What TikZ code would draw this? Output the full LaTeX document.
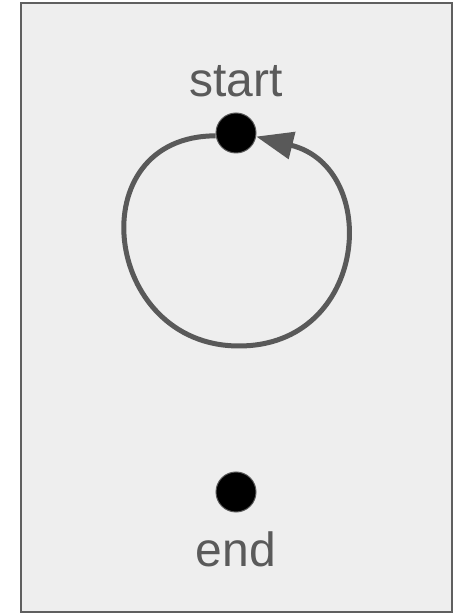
\documentclass[tikz,border=0pt]{standalone}
\usepackage{fontspec}
\setmainfont{Liberation Sans}
\usetikzlibrary{arrows.meta}
\definecolor{framefill}{HTML}{EEEEEE}
\definecolor{framedraw}{HTML}{5F5F5F}
\definecolor{linegray}{HTML}{595959}
\definecolor{textgray}{HTML}{5A5A5A}
\tikzset{
  framebox/.style={draw=framedraw, fill=framefill, line width=2pt},
  dot/.style={circle, fill=black, draw=linegray, line width=1pt, minimum size=40pt, inner sep=0pt},
  lbl/.style={anchor=base, text=textgray, font=\fontsize{48}{56}\selectfont, inner sep=0pt},
  flow/.style={draw=linegray, line width=5pt, -{Triangle[length=37pt,width=27pt]}}
}
\begin{document}
\begin{tikzpicture}[x=1pt,y=1pt]
  \useasboundingbox (0,0) rectangle (456,614);
  \path[framebox] (21,611) rectangle (452,1.5);
  \node[dot] (s) at (236,481) {};
  \node[dot] (e) at (236,122) {};
  \node[lbl] (slbl) at (236,517) {start};
  \node[lbl] (elbl) at (236,47) {end};
  \coordinate (bot) at (239,268);
  \draw[flow] (s.188) to[out=180,in=180,looseness=1.66] (bot)
                       to[out=0,in=-14,looseness=1.58] (s.-10);
\end{tikzpicture}
\end{document}
